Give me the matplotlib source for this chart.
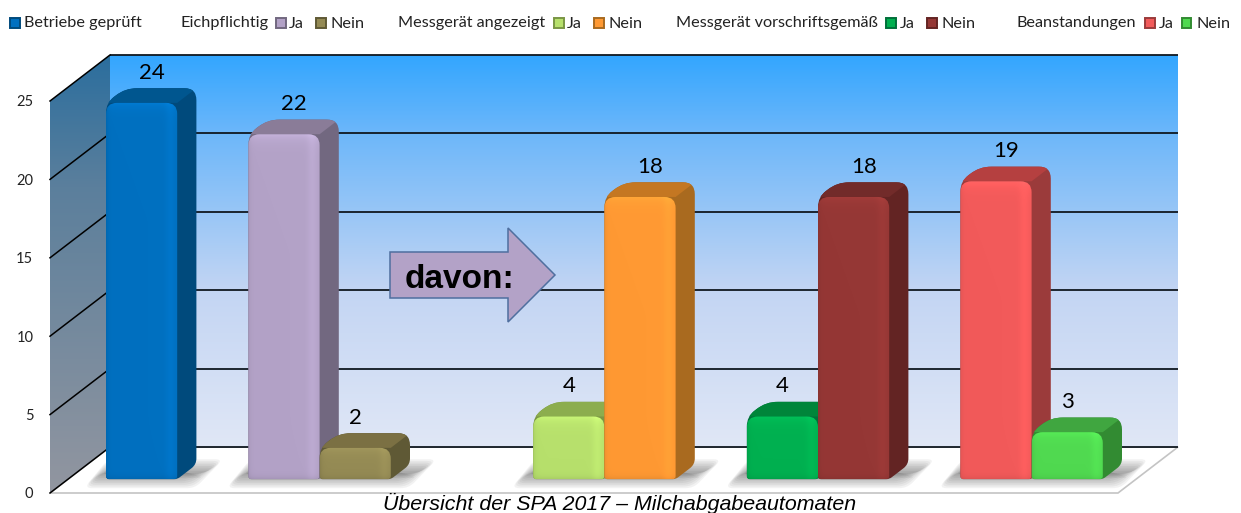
import numpy as np
import matplotlib
matplotlib.use('Agg')
import matplotlib.pyplot as plt
from matplotlib.colors import LinearSegmentedColormap, to_rgb
from matplotlib.patches import PathPatch, Polygon, Rectangle
from matplotlib.path import Path
from matplotlib.transforms import Affine2D

# values
bar_names = ['Betriebe geprüft', 'Eichpflichtig Ja', 'Eichpflichtig Nein',
             'Messgerät angezeigt Ja', 'Messgerät angezeigt Nein',
             'Messgerät vorschriftsgemäß Ja', 'Messgerät vorschriftsgemäß Nein',
             'Beanstandungen Ja', 'Beanstandungen Nein']
bar_values = [24, 22, 2, 4, 18, 4, 18, 19, 3]
y_ticks = [0, 5, 10, 15, 20, 25]

# layout: slot of each bar along the axis, and which bars stand together
bar_slots = [0, 2, 3, 6, 7, 9, 10, 12, 13]
bar_groups = [[0], [1, 2], [3, 4], [5, 6], [7, 8]]
front_colors = ['#0070C0', '#B3A2C7', '#948A54', '#B7E06C', '#FF9933',
                '#00B050', '#953735', '#F25A5A', '#50D950']
top_colors = ['#00568F', '#8A7C98', '#7B7043', '#8CAD4E', '#C47722',
              '#00853A', '#722B2A', '#B54040', '#40A640']
side_colors = ['#004A7C', '#726880', '#5F5935', '#7A9644', '#A96A1F',
               '#00703A', '#632423', '#9B3B3B', '#328B32']

W, H = 1241, 513
SLOT = 71.2     # px per bar slot
UNIT = 15.68    # px per value unit
X0_PX = 88.0    # px of slot 0 on the front plane
Y0_PX = 493.0   # px of value 0 on the front plane
DX, DY = 60.0, 46.0   # depth of the whole box in px
Z0, Z1 = 0.30, 0.62   # depth of the bars
X_LEFT = (50 - X0_PX) / SLOT
X_RIGHT = X_LEFT + 15
FONT = 'Lato'

plt.rcParams['font.family'] = [FONT, 'DejaVu Sans']


def project(x, y, z=0.0):
    return x + z * DX / SLOT, y + z * DY / UNIT


def rounded_path(pts, radii):
    '''closed path through pts (data coords), corners rounded by radii in px'''
    p = np.array(pts, dtype=float) * [SLOT, UNIT]
    n = len(p)
    verts, codes = [], []
    for i in range(n):
        u1 = p[i - 1] - p[i]
        u2 = p[(i + 1) % n] - p[i]
        r = radii[i] if np.ndim(radii) else radii
        a = p[i] + u1 / np.hypot(*u1) * min(r, np.hypot(*u1) / 2)
        b = p[i] + u2 / np.hypot(*u2) * min(r, np.hypot(*u2) / 2)
        verts += [a, p[i], b]
        codes += [Path.MOVETO if i == 0 else Path.LINETO, Path.CURVE3, Path.CURVE3]
    verts.append(verts[0])
    codes.append(Path.CLOSEPOLY)
    return Path(np.array(verts) / [SLOT, UNIT], codes)


def gradient(ax, stops, box, clip, zorder):
    cmap = LinearSegmentedColormap.from_list('g', stops)
    im = ax.imshow(np.linspace(0, 1, 256)[:, None], cmap=cmap, extent=box,
                   aspect='auto', zorder=zorder, interpolation='bilinear')
    im.set_clip_path(PathPatch(clip, transform=ax.transData))


def draw_shadow(ax, first, last):
    left = project(bar_slots[first], 0, Z0)[0]
    right = project(bar_slots[last] + 1, 0, Z0)[0]
    base = project(0, 0, Z0)[1]
    for k in range(12):
        ins = k * 1.7
        pts = [(left - (22 - ins) / SLOT, base - (9 - ins) / UNIT),
               (right + (18 - ins) / SLOT, base - (9 - ins) / UNIT),
               (right + (46 - ins) / SLOT, base + (20 - ins) / UNIT),
               (left + 2 / SLOT, base + (20 - ins) / UNIT)]
        ax.add_patch(PathPatch(rounded_path(pts, 8), fc='#303030', ec='none',
                               alpha=0.06, zorder=2))


def draw_bar(ax, i, order):
    L, R, v = bar_slots[i], bar_slots[i] + 1, bar_values[i]
    z = 3 + order * 0.1
    # outline of the whole block in the side colour
    shape = [project(L, 0, Z0), project(R, 0, Z0), project(R, 0, Z1),
             project(R, v, Z1), project(L, v, Z1), project(L, v, Z0)]
    outer = rounded_path(shape, [3, 3, 6, 12, 12, 10])
    ax.add_patch(PathPatch(outer, fc=side_colors[i], ec='none', zorder=z))
    top = Polygon([project(L, v, Z0), project(R, v, Z0), project(R, v, Z1),
                   project(L, v, Z1)], fc=top_colors[i], ec='none', zorder=z + 0.01)
    ax.add_patch(top)
    top.set_clip_path(PathPatch(outer, transform=ax.transData))
    # front face with a soft bevel
    front = rounded_path([project(L, 0, Z0), project(R, 0, Z0), project(R, v, Z0),
                          project(L, v, Z0)], [3, 3, 11, 11])
    c = np.array(to_rgb(front_colors[i]))
    xs = np.linspace(0, 1, 71)
    ys = np.linspace(0, 1, max(int(v * UNIT), 8))
    shade_x = 1 - 0.07 * np.exp(-xs / 0.03) + 0.05 * np.exp(-((xs - 0.9) / 0.07) ** 2)
    px_down = ys * v * UNIT
    shade_y = 1 + 0.10 * np.exp(-px_down / 6.0) - 0.07 * np.exp(-(v * UNIT - px_down) / 3.0)
    img = np.clip(c[None, None, :] * (shade_y[:, None] * shade_x[None, :])[:, :, None], 0, 1)
    (x1, y1), (x2, y2) = project(L, 0, Z0), project(R, v, Z0)
    im = ax.imshow(img, extent=(x1, x2, y1, y2), aspect='auto', zorder=z + 0.02,
                   interpolation='bilinear')
    im.set_clip_path(PathPatch(front, transform=ax.transData))
    # value above the block, short blocks have it nearer the front
    lx, ly = project(L + 0.5, v, Z1)
    shift = 19 if v <= 4 else 9
    ax.annotate(str(v), (lx - shift / SLOT, ly), xytext=(0, 15.5), textcoords='offset pixels',
                ha='center', va='center', fontsize=16, color='black', zorder=20)


fig = plt.figure(figsize=(W / 100, H / 100), dpi=100)
ax = fig.add_axes([0, 0, 1, 1])
ax.set_facecolor('white')

back_x0 = project(X_LEFT, 0, 1)[0]
back_x1 = project(X_RIGHT, 0, 1)[0]
back_y0 = project(0, 0, 1)[1]
back_y1 = project(0, 25, 1)[1]

# floor
ax.add_patch(Polygon([project(X_LEFT, 0), project(X_RIGHT, 0), project(X_RIGHT, 0, 1),
                      project(X_LEFT, 0, 1)], fc='white', ec='#C4C4C4', lw=1.2, zorder=0.5))

# back wall and left wall
back_box = (back_x0, back_x1, back_y0, back_y1)
gradient(ax, [(0, '#33A6FF'), (0.2, '#6DB7FA'), (0.6, '#C3D5F3'), (1, '#E0E7F6')],
         back_box, Path([(back_x0, back_y0), (back_x1, back_y0), (back_x1, back_y1),
                         (back_x0, back_y1), (back_x0, back_y0)]), 1)
wall = [project(X_LEFT, 0), project(X_LEFT, 0, 1), project(X_LEFT, 25, 1), project(X_LEFT, 25)]
gradient(ax, [(0, '#2B6E9E'), (0.3, '#5B7F9C'), (1, '#9296A0')],
         (X_LEFT, back_x0, 0, back_y1), Path(wall + [wall[0]]), 1)

for t in y_ticks:
    ax.plot(*zip(project(X_LEFT, t, 1), project(X_RIGHT, t, 1)), color='#101820',
            lw=1.3, zorder=1.5, solid_capstyle='butt')
    ax.plot(*zip(project(X_LEFT, t), project(X_LEFT, t, 1)), color='black',
            lw=1.1, zorder=1.5)

for group in bar_groups:
    draw_shadow(ax, group[0], group[-1])
for order, i in enumerate(range(len(bar_values))):
    draw_bar(ax, i, order)

ax.set_xlim((0 - X0_PX) / SLOT, (W - X0_PX) / SLOT)
ax.set_ylim((Y0_PX - H) / UNIT, Y0_PX / UNIT)
for name in ['top', 'right', 'bottom']:
    ax.spines[name].set_visible(False)
ax.spines['left'].set_position(('data', X_LEFT))
ax.spines['left'].set_visible(False)
ax.set_xticks([])
ax.set_yticks(y_ticks)
ax.tick_params(axis='y', length=0, pad=12, labelsize=10.5, labelcolor='#222222')

# pixel overlay for legend, arrow and caption
px = Affine2D().scale(1 / W, -1 / H).translate(0, 1) + fig.transFigure

arrow = [(390, 252), (508, 252), (508, 228), (555, 275), (508, 322), (508, 298), (390, 298)]
fig.add_artist(Polygon(arrow, closed=True, fc='#B3A2C7', ec='#4F6F9F', lw=1.1,
                       transform=px, zorder=30))
fig.text(405, 279, 'davon:', transform=px, family='Liberation Sans', fontweight='bold',
         fontsize=24, va='center', ha='left', color='black', zorder=31)
fig.text(620, 503, 'Übersicht der SPA 2017 – Milchabgabeautomaten', transform=px,
         family='Liberation Sans', style='italic', fontsize=15.4, ha='center', va='center',
         color='black', zorder=31)

legend_texts = [(24, 'Betriebe geprüft'), (180.5, 'Eichpflichtig'), (288.5, 'Ja'), (330.5, 'Nein'),
                (398, 'Messgerät angezeigt'), (566.5, 'Ja'), (608, 'Nein'),
                (676, 'Messgerät vorschriftsgemäß'), (900, 'Ja'), (941.5, 'Nein'),
                (1017, 'Beanstandungen'), (1158.5, 'Ja'), (1196.5, 'Nein')]
legend_boxes = [10, 276, 316, 554, 594, 886, 927, 1145, 1181.5]
for x, s in legend_texts:
    fig.text(x, 23.5, s, transform=px, fontsize=11.7, va='center', ha='left', color='#222222')
for i, x in enumerate(legend_boxes):
    fig.add_artist(Rectangle((x, 18), 9.5, 9.5, fc=front_colors[i], ec=side_colors[i],
                             lw=1.4, transform=px))

fig.savefig('out.png', dpi=100)
